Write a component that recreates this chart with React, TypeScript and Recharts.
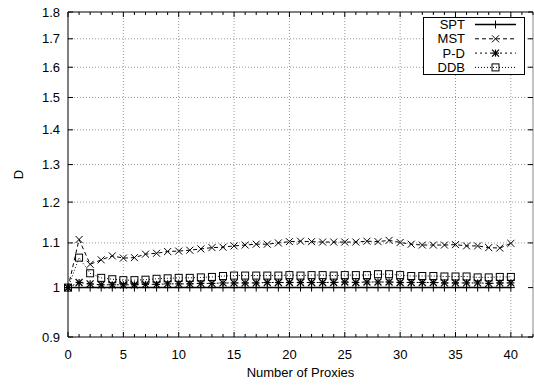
import React from 'react';
import { LineChart, Line, XAxis, YAxis, ReferenceLine, Legend } from 'recharts';

// x positions (number of proxies)
const proxies = [0, 1, 2, 3, 4, 5, 6, 7, 8, 9, 10, 11, 12, 13, 14, 15, 16, 17, 18, 19, 20, 21, 22, 23, 24, 25, 26, 27, 28, 29, 30, 31, 32, 33, 34, 35, 36, 37, 38, 39, 40];

const spt = [1, 1, 1, 1, 1, 1, 1, 1, 1, 1, 1, 1, 1, 1, 1, 1, 1, 1, 1, 1, 1, 1, 1, 1, 1, 1, 1, 1, 1, 1, 1, 1, 1, 1, 1, 1, 1, 1, 1, 1, 1];
const mst = [1.0, 1.108, 1.051, 1.061, 1.07, 1.065, 1.066, 1.074, 1.076, 1.08, 1.081, 1.083, 1.086, 1.089, 1.09, 1.093, 1.095, 1.097, 1.097, 1.1, 1.103, 1.104, 1.103, 1.102, 1.102, 1.102, 1.102, 1.104, 1.103, 1.106, 1.101, 1.097, 1.095, 1.095, 1.095, 1.096, 1.093, 1.093, 1.089, 1.088, 1.099];
const pd = [1.0, 1.011, 1.008, 1.006, 1.006, 1.006, 1.006, 1.007, 1.007, 1.008, 1.008, 1.008, 1.009, 1.009, 1.01, 1.01, 1.01, 1.01, 1.011, 1.011, 1.011, 1.011, 1.011, 1.011, 1.011, 1.012, 1.011, 1.012, 1.012, 1.012, 1.011, 1.011, 1.011, 1.011, 1.01, 1.01, 1.01, 1.01, 1.009, 1.01, 1.01];
const ddb = [1.0, 1.066, 1.031, 1.021, 1.018, 1.016, 1.016, 1.017, 1.019, 1.02, 1.021, 1.021, 1.022, 1.023, 1.025, 1.026, 1.026, 1.026, 1.026, 1.026, 1.027, 1.026, 1.027, 1.027, 1.026, 1.027, 1.027, 1.027, 1.029, 1.029, 1.027, 1.025, 1.025, 1.025, 1.024, 1.024, 1.024, 1.022, 1.022, 1.023, 1.023];

const xTicks = [0, 1, 2, 3, 4, 5, 6, 7, 8, 9, 10, 11, 12, 13, 14, 15, 16, 17, 18, 19, 20, 21, 22, 23, 24, 25, 26, 27, 28, 29, 30, 31, 32, 33, 34, 35, 36, 37, 38, 39, 40, 41, 42];
const xGrid = [5, 10, 15, 20, 25, 30, 35, 40];
const yTicks = [0.9, 1, 1.1, 1.2, 1.3, 1.4, 1.5, 1.6, 1.7, 1.8];
const yGrid = [1.1, 1.2, 1.3, 1.4, 1.5, 1.6, 1.7];

const data = proxies.map((p, i) => ({ p, spt: spt[i], mst: mst[i], pd: pd[i], ddb: ddb[i] }));

const FONT = '"Liberation Sans", Arial, sans-serif';
const INK = '#000';

type MarkerKind = 'plus' | 'cross' | 'star' | 'square';

function Marker({ kind, cx, cy }: { kind: MarkerKind; cx: number; cy: number }) {
  const r = 3.5;
  if (kind === 'plus') {
    return (
      <g stroke={INK} strokeWidth={1}>
        <line x1={cx - 4} x2={cx + 4} y1={cy} y2={cy} />
        <line x1={cx} x2={cx} y1={cy - 4} y2={cy + 4} />
      </g>
    );
  }
  if (kind === 'cross') {
    return (
      <g stroke={INK} strokeWidth={1}>
        <line x1={cx - r} x2={cx + r} y1={cy - r} y2={cy + r} />
        <line x1={cx - r} x2={cx + r} y1={cy + r} y2={cy - r} />
      </g>
    );
  }
  if (kind === 'star') {
    return (
      <g stroke={INK} strokeWidth={1.2}>
        <line x1={cx - r} x2={cx + r} y1={cy - r} y2={cy + r} />
        <line x1={cx - r} x2={cx + r} y1={cy + r} y2={cy - r} />
        <line x1={cx - r} x2={cx + r} y1={cy} y2={cy} />
        <line x1={cx} x2={cx} y1={cy - r} y2={cy + r} />
      </g>
    );
  }
  return <rect x={cx - r} y={cy - r} width={2 * r} height={2 * r} fill="none" stroke={INK} strokeWidth={1} />;
}

const dotOf = (kind: MarkerKind) => (props: any) => (
  <Marker key={`${kind}-${props.index}`} kind={kind} cx={props.cx} cy={props.cy} />
);

const series = [
  { key: 'spt', name: 'SPT', kind: 'plus' as MarkerKind, dash: undefined, width: 1.5 },
  { key: 'mst', name: 'MST', kind: 'cross' as MarkerKind, dash: '4 3', width: 1 },
  { key: 'pd', name: 'P-D', kind: 'star' as MarkerKind, dash: '2 3', width: 1 },
  { key: 'ddb', name: 'DDB', kind: 'square' as MarkerKind, dash: '1 2', width: 1 },
];

const BottomTick = ({ x, y, payload }: any) => {
  const major = payload.value % 5 === 0;
  return (
    <g>
      <line x1={x} x2={x} y1={y} y2={y - (major ? 5 : 3)} stroke={INK} />
      {major && payload.value <= 40 && (
        <text x={x} y={y + 21.5} textAnchor="middle" fontFamily={FONT} fontSize={13} fill={INK}>
          {payload.value}
        </text>
      )}
    </g>
  );
};

const TopTick = ({ x, y, payload }: any) => {
  const major = payload.value % 5 === 0;
  return <line x1={x} x2={x} y1={y} y2={y + (major ? 5 : 3)} stroke={INK} />;
};

const LeftTick = ({ x, y, payload }: any) => (
  <g>
    <line x1={x} x2={x + 5} y1={y} y2={y} stroke={INK} />
    <text x={x - 8} y={y + 4.5} textAnchor="end" fontFamily={FONT} fontSize={13} fill={INK}>
      {payload.value}
    </text>
  </g>
);

const RightTick = ({ x, y }: any) => <line x1={x} x2={x - 5} y1={y} y2={y} stroke={INK} />;

const renderLegend = () => (
  <svg width={102} height={58} style={{ display: 'block' }}>
    <rect x={0.5} y={0.5} width={101} height={57} fill="#fff" stroke={INK} />
    {series.map((s, i) => {
      const cy = 7.5 + i * 14.3;
      return (
        <g key={s.key}>
          <text x={42} y={cy + 4.5} textAnchor="end" fontFamily={FONT} fontSize={13} fill={INK}>
            {s.name}
          </text>
          <line x1={52} x2={93} y1={cy} y2={cy} stroke={INK} strokeWidth={s.width} strokeDasharray={s.dash} />
          <Marker kind={s.kind} cx={72.5} cy={cy} />
        </g>
      );
    })}
  </svg>
);

export default function App() {
  return (
    <div style={{ position: 'absolute', left: 0, top: 0, background: '#fff' }}>
      <LineChart width={534} height={386} data={data} margin={{ top: 11, right: 0, bottom: 0, left: 0 }}>
        <XAxis
          xAxisId="b"
          dataKey="p"
          type="number"
          domain={[0, 42]}
          ticks={xTicks}
          interval={0}
          height={49}
          tickSize={0}
          tickMargin={0}
          tick={BottomTick}
          axisLine={{ stroke: INK }}
          label={{
            content: () => (
              <text x={300.5} y={377} textAnchor="middle" fontFamily={FONT} fontSize={13} fill={INK}>
                Number of Proxies
              </text>
            ),
          }}
        />
        <XAxis
          xAxisId="t"
          orientation="top"
          dataKey="p"
          type="number"
          domain={[0, 42]}
          ticks={xTicks}
          interval={0}
          height={1}
          tickSize={0}
          tickMargin={0}
          tick={TopTick}
          axisLine={{ stroke: INK }}
        />
        <YAxis
          yAxisId="l"
          type="number"
          scale="log"
          domain={[0.9, 1.8]}
          allowDataOverflow
          ticks={yTicks}
          interval={0}
          width={68}
          tickSize={0}
          tickMargin={0}
          tick={LeftTick}
          axisLine={{ stroke: INK }}
          label={{
            content: () => (
              <text x={23} y={174.5} transform="rotate(-90 23 174.5)" textAnchor="middle" fontFamily={FONT} fontSize={13} fill={INK}>
                D
              </text>
            ),
          }}
        />
        <YAxis
          yAxisId="r"
          orientation="right"
          type="number"
          scale="log"
          domain={[0.9, 1.8]}
          allowDataOverflow
          ticks={yTicks}
          interval={0}
          width={1}
          tickSize={0}
          tickMargin={0}
          tick={RightTick}
          axisLine={{ stroke: '#888' }}
        />
        {xGrid.map((v) => (
          <ReferenceLine key={`gx${v}`} xAxisId="b" yAxisId="l" x={v} stroke="#999" strokeDasharray="1 2" />
        ))}
        {yGrid.map((v) => (
          <ReferenceLine key={`gy${v}`} xAxisId="b" yAxisId="l" y={v} stroke="#999" strokeDasharray="1 2" />
        ))}
        {series.map((s) => (
          <Line
            key={s.key}
            xAxisId="b"
            yAxisId="l"
            type="linear"
            dataKey={s.key}
            name={s.name}
            stroke={INK}
            strokeWidth={s.width}
            strokeDasharray={s.dash}
            dot={dotOf(s.kind)}
            activeDot={false}
            isAnimationActive={false}
          />
        ))}
        <Legend
          layout="horizontal"
          align="center"
          verticalAlign="middle"
          content={renderLegend}
          wrapperStyle={{ position: 'absolute', left: 423, top: 17, width: 102, height: 58 }}
        />
      </LineChart>
    </div>
  );
}
